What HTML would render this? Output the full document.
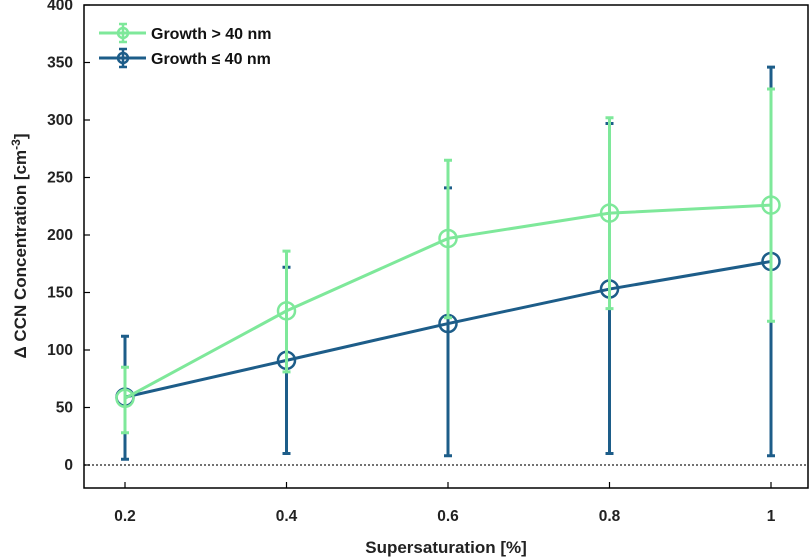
<!DOCTYPE html>
<html><head><meta charset="utf-8"><style>
html,body{margin:0;padding:0;background:#fff;}
svg{display:block;font-family:"Liberation Sans",Arial,sans-serif;}
</style></head><body>
<svg id="chart" width="812" height="559" viewBox="0 0 812 559"></svg>
<script>
const categories=[0.2,0.4,0.6,0.8,1];
const xTickLabels=["0.2","0.4","0.6","0.8","1"];
const yTicks=[0,50,100,150,200,250,300,350,400];
const greenMean=[58,134,197,219,226];
const greenLow=[28,81,128,136,125];
const greenHigh=[85,186,265,302,327];
const blueMean=[59,91,123,153,177];
const blueLow=[5,10,8,10,8];
const blueHigh=[112,172,241,297,346];

const L=84,R=808,T=5,B=488;
const xMin=0.2-41/807.5, xMax=1+37/807.5, yMin=-20, yMax=400;
const xs=v=>L+(v-xMin)/(xMax-xMin)*(R-L);
const ys=v=>B-(v-yMin)/(yMax-yMin)*(B-T);
const svg=document.getElementById('chart');
const NS='http://www.w3.org/2000/svg';
function mk(tag,attrs,parent){const e=document.createElementNS(NS,tag);for(const k in attrs)e.setAttribute(k,attrs[k]);(parent||svg).appendChild(e);return e;}

const z=mk('line',{x1:L,x2:R,y1:ys(0),y2:ys(0),stroke:'#444','stroke-width':1.5,'stroke-dasharray':'2,2'});



function series(name,color,mean,low,high){
  const g=mk('g',{});
  
  
  categories.forEach((c,i)=>{
    const x=xs(c);
    const eb=mk('path',{d:`M${x},${ys(low[i])}V${ys(high[i])}M${x-4},${ys(low[i])}H${x+4}M${x-4},${ys(high[i])}H${x+4}`,stroke:color,'stroke-width':3,fill:'none'},g);
    
    
  });
  const ln=mk('polyline',{points:categories.map((c,i)=>xs(c)+','+ys(mean[i])).join(' '),stroke:color,'stroke-width':3,fill:'none'},g);
  
  
  categories.forEach((c,i)=>{
    const m=mk('circle',{cx:xs(c),cy:ys(mean[i]),r:8.5,stroke:color,'stroke-width':2.5,fill:'none'},g);
    
    
  });
}
series('growth-le-40','#1d5d89',blueMean,blueLow,blueHigh);
series('growth-gt-40','#7ee89a',greenMean,greenLow,greenHigh);

const fr=mk('rect',{x:L,y:T,width:R-L,height:B-T,fill:'none',stroke:'#000','stroke-width':1.5});



yTicks.forEach(v=>{
  const y=ys(v);
  const t=mk('line',{x1:L,x2:L+6,y1:y,y2:y,stroke:'#000','stroke-width':1.2});
  
  
  const tx=mk('text',{x:L-11,y:y+5,'text-anchor':'end','font-size':15.5,'font-weight':'bold',fill:'#222'});
  tx.textContent=v;
  
  
});
categories.forEach((c,i)=>{
  const x=xs(c);
  const t=mk('line',{x1:x,x2:x,y1:B,y2:B-6,stroke:'#000','stroke-width':1.2});
  
  
  const tx=mk('text',{x:x,y:B+33,'text-anchor':'middle','font-size':15.5,'font-weight':'bold',fill:'#222'});
  tx.textContent=xTickLabels[i];
  
  
});
</script>
<svg width="812" height="559" style="position:absolute;left:0;top:0">
<text x="446" y="553" text-anchor="middle" font-size="17" font-weight="bold" fill="#222" font-family="Liberation Sans, sans-serif">Supersaturation [%]</text>
<text transform="translate(26,246) rotate(-90)" text-anchor="middle" font-size="17" font-weight="bold" fill="#222" font-family="Liberation Sans, DejaVu Sans, sans-serif">Δ CCN Concentration [cm<tspan dy="-6" font-size="12">-3</tspan><tspan dy="6">]</tspan></text>
<g font-family="Liberation Sans, DejaVu Sans, sans-serif">
<g>
<line x1="99" x2="146" y1="33" y2="33" stroke="#7ee89a" stroke-width="3"/>
<path d="M123,24V42M119,24H127M119,42H127" stroke="#7ee89a" stroke-width="2.5"/>
<circle cx="123" cy="33" r="5" fill="none" stroke="#7ee89a" stroke-width="2.5"/>
<text x="151" y="39" font-size="16" font-weight="bold" fill="#111">Growth &gt; 40 nm</text>
</g>
<g>
<line x1="99" x2="146" y1="58" y2="58" stroke="#1d5d89" stroke-width="3"/>
<path d="M123,49V67M119,49H127M119,67H127" stroke="#1d5d89" stroke-width="2.5"/>
<circle cx="123" cy="58" r="5" fill="none" stroke="#1d5d89" stroke-width="2.5"/>
<text x="151" y="64" font-size="16" font-weight="bold" fill="#111">Growth ≤ 40 nm</text>
</g>
</g>
</svg>
</body></html>
